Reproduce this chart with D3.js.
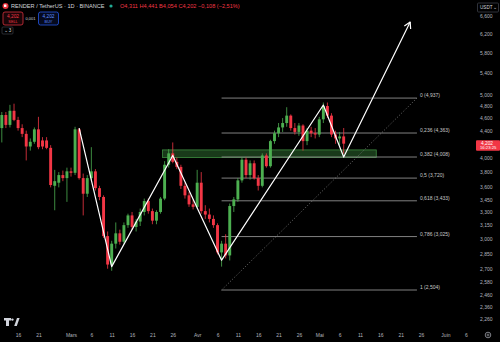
<!DOCTYPE html>
<html>
<head>
<meta charset="utf-8">
<script src="https://cdn.jsdelivr.net/npm/d3@7"></script>
<style>
  html, body { margin: 0; padding: 0; background: #000; }
  svg { display: block; font-family: "Liberation Sans", Arial, sans-serif; }
</style>
</head>
<body>
<svg id="chart" width="500" height="342"></svg>
<script>
// daily candles, RENDER/USDT, from 12 Feb 2025
const firstDay = "2025-02-12";
const open = [4.44,4.65,4.49,4.72,4.57,4.44,4.35,4.16,4.23,4.42,4.25,4.25,4.14,3.62,3.66,3.76,3.72,3.81,3.79,4.42,
  3.72,3.52,3.72,3.81,3.59,3.48,3.03,2.74,2.95,3.06,2.97,3.15,3.26,3.13,3.19,3.30,3.43,3.31,3.20,3.30,
  3.46,3.90,4.06,3.94,3.87,3.62,3.50,3.39,3.36,3.66,3.31,3.27,3.22,3.15,2.86,2.95,2.83,3.37,3.45,3.69,
  3.97,3.76,3.92,3.72,3.62,4.03,3.88,4.24,4.36,4.45,4.52,4.64,4.44,4.38,4.48,4.24,4.40,4.36,4.34,4.58,
  4.80,4.64,4.34,4.28,4.311];
const high = [4.70,4.70,4.82,4.84,4.62,4.50,4.40,4.28,4.45,4.62,4.30,4.30,4.18,3.83,3.80,3.82,3.86,3.86,4.46,4.44,
  3.78,3.76,4.15,3.84,3.62,3.50,3.08,2.98,3.18,3.10,3.18,3.28,3.30,3.22,3.34,3.46,3.46,3.34,3.32,3.48,
  3.95,4.12,4.22,4.00,3.90,3.66,3.54,3.45,3.83,3.80,3.38,3.34,3.26,3.17,2.98,3.05,3.40,3.48,3.72,4.00,
  4.00,3.96,3.96,3.76,4.06,4.06,4.26,4.40,4.52,4.60,4.78,4.66,4.52,4.52,4.50,4.44,4.46,4.44,4.62,4.86,
  4.86,4.68,4.40,4.38,4.441];
const low = [4.22,4.44,4.45,4.55,4.40,4.30,3.96,4.10,4.20,4.12,4.12,4.12,3.60,3.32,3.60,3.68,3.42,3.74,3.76,3.70,
  3.26,3.48,3.68,3.56,3.44,3.01,2.70,2.68,2.90,2.94,2.95,3.12,3.10,3.08,3.14,3.26,3.28,3.16,3.16,3.28,
  3.44,3.86,3.92,3.84,3.58,3.46,3.36,3.33,3.34,3.28,3.22,3.18,3.12,2.84,2.72,2.80,2.78,3.30,3.42,3.66,
  3.72,3.70,3.70,3.56,3.60,3.86,3.86,4.20,4.30,4.38,4.46,4.40,4.34,4.32,4.10,4.18,4.30,4.28,4.30,4.52,
  4.60,4.30,4.20,4.18,4.054];
const close = [4.65,4.49,4.72,4.57,4.44,4.35,4.16,4.23,4.42,4.15,4.16,4.14,3.63,3.68,3.76,3.72,3.81,3.79,4.42,3.72,
  3.52,3.72,3.81,3.59,3.48,3.03,2.74,2.95,3.06,2.97,3.15,3.26,3.13,3.19,3.30,3.43,3.31,3.20,3.30,3.46,
  3.90,4.06,3.94,3.87,3.62,3.50,3.39,3.36,3.66,3.31,3.27,3.22,3.15,2.86,2.95,2.83,3.37,3.45,3.69,3.97,
  3.76,3.92,3.72,3.62,4.03,3.88,4.24,4.36,4.45,4.52,4.64,4.44,4.38,4.48,4.24,4.40,4.36,4.34,4.58,4.80,
  4.64,4.34,4.28,4.310,4.202];

// drawings
const zigDates = ["2025-03-03","2025-03-11","2025-03-26","2025-04-07","2025-05-02","2025-05-07"];
const zigPrices = [4.44, 2.72, 4.03, 2.783, 4.817, 4.007];
const arrowTip = ["2025-05-23T08:00", 6.46];
const fibLevels = [0, 0.236, 0.382, 0.5, 0.618, 0.786, 1];
const fibPrices = [4.937, 4.363, 4.008, 3.720, 3.433, 3.025, 2.504];
const fibStart = "2025-04-07", fibEnd = "2025-05-25";
const zoneDates = ["2025-03-23T12:00", "2025-05-15"];
const zonePrices = [4.11, 4.00];

const priceTicks = [6.6,6.2,5.8,5.4,5.0,4.8,4.6,4.4,4.0,3.8,3.6,3.45,3.3,3.15,3.0,2.85,2.7,2.58,2.46,2.36,2.26];
const dateTicks = ["2025-02-16","2025-02-21","2025-03-01","2025-03-06","2025-03-11","2025-03-16","2025-03-21","2025-03-26",
  "2025-04-01","2025-04-06","2025-04-11","2025-04-16","2025-04-21","2025-04-26",
  "2025-05-01","2025-05-06","2025-05-11","2025-05-16","2025-05-21","2025-05-26","2025-06-01","2025-06-06"];
const monthNames = {2: "Mars", 3: "Avr", 4: "Mai", 5: "Juin"};

const GREEN = "#4caf50", RED = "#f23645";
const plotW = 470, plotH = 328;

const parse = s => new Date(s + (s.length > 10 ? "Z" : "T00:00Z"));
const fr = (v, n) => v.toFixed(n).replace(".", ",");

const svg = d3.select("#chart");

const x = d3.scaleUtc()
  .domain([parse("2025-03-01"), parse("2025-06-06")])
  .range([71, 71 + 97 * 4.07]);
const y = d3.scaleLog()
  .domain([6.6, 2.26])
  .range([16, 319]);

const candles = open.map((o, i) => ({
  date: d3.utcDay.offset(parse(firstDay), i),
  o: o, h: high[i], l: low[i], c: close[i]
}));

svg.append("defs").append("clipPath").attr("id", "plot")
  .append("rect").attr("width", plotW).attr("height", plotH);

const g = svg.append("g").attr("clip-path", "url(#plot)");

// support zone
g.append("rect")
  .attr("x", x(parse(zoneDates[0])))
  .attr("y", y(zonePrices[0]))
  .attr("width", x(parse(zoneDates[1])) - x(parse(zoneDates[0])))
  .attr("height", y(zonePrices[1]) - y(zonePrices[0]))
  .attr("fill", "rgba(76,175,80,0.33)")
  .attr("stroke", "#3d8c40")
  .attr("stroke-width", 0.8);

// fib retracement
const fx0 = x(parse(fibStart)), fx1 = x(parse(fibEnd));
g.selectAll(".fib").data(fibPrices).enter().append("line")
  .attr("x1", fx0).attr("x2", fx1)
  .attr("y1", d => y(d)).attr("y2", d => y(d))
  .attr("stroke", "#8f8f8f").attr("stroke-width", 0.9);
g.append("line")
  .attr("x1", fx0).attr("y1", y(fibPrices[6]))
  .attr("x2", fx1).attr("y2", y(fibPrices[0]))
  .attr("stroke", "#8a8a8a").attr("stroke-width", 0.8)
  .attr("stroke-dasharray", "1,2");
svg.selectAll(".fibl").data(fibPrices).enter().append("text")
  .attr("x", fx1 + 3).attr("y", d => y(d) - 1)
  .attr("font-size", 5).attr("fill", "#c8c8c8")
  .text((d, i) => (fibLevels[i] === 0 || fibLevels[i] === 1 ? fibLevels[i] : fr(fibLevels[i], String(fibLevels[i]).length - 2)) + " (" + fr(d, 3) + ")");

// candles
const bw = 2.9;
const cg = g.selectAll(".c").data(candles).enter().append("g");
cg.append("line")
  .attr("x1", d => x(d.date)).attr("x2", d => x(d.date))
  .attr("y1", d => y(d.h)).attr("y2", d => y(d.l))
  .attr("stroke", d => d.c >= d.o ? GREEN : RED).attr("stroke-width", 0.8);
cg.append("rect")
  .attr("x", d => x(d.date) - bw / 2)
  .attr("width", bw)
  .attr("y", d => y(Math.max(d.o, d.c)))
  .attr("height", d => Math.max(0.8, Math.abs(y(d.o) - y(d.c))))
  .attr("fill", d => d.c >= d.o ? GREEN : RED);

// zigzag + arrow
const zig = zigDates.map((d, i) => [x(parse(d)), y(zigPrices[i])]);
const tip = [x(parse(arrowTip[0])), y(arrowTip[1])];
g.append("path")
  .attr("d", d3.line()(zig.concat([tip])))
  .attr("fill", "none").attr("stroke", "#fff").attr("stroke-width", 1.2)
  .attr("stroke-linejoin", "round");
const last = zig[zig.length - 1];
const ang = Math.atan2(last[1] - tip[1], last[0] - tip[0]);
const wing = a => [tip[0] + 7 * Math.cos(ang + a), tip[1] + 7 * Math.sin(ang + a)];
g.append("path")
  .attr("d", d3.line()([wing(Math.PI / 6), tip, wing(-Math.PI / 6)]))
  .attr("fill", "none").attr("stroke", "#fff").attr("stroke-width", 1.2)
  .attr("stroke-linejoin", "round");

// price axis
const yAxis = d3.axisRight(y).tickValues(priceTicks).tickSize(0).tickPadding(0)
  .tickFormat(d => fr(d, 3));
svg.append("g").attr("transform", "translate(480,0)").call(yAxis)
  .call(a => a.select(".domain").remove())
  .selectAll("text").attr("font-size", 5).attr("fill", "#b2b5be").attr("font-family", "Liberation Sans, Arial");

// time axis
const xAxis = d3.axisBottom(x).tickValues(dateTicks.map(parse)).tickSize(0).tickPadding(0)
  .tickFormat(d => d.getUTCDate() === 1 ? monthNames[d.getUTCMonth()] : d.getUTCDate());
svg.append("g").attr("transform", "translate(0,333)").call(xAxis)
  .call(a => a.select(".domain").remove())
  .selectAll("text").attr("font-size", 5).attr("fill", "#b2b5be").attr("font-family", "Liberation Sans, Arial");

// current price label
const lastC = close[close.length - 1];
const prevC = close[close.length - 2];
const py = y(lastC);
svg.append("rect").attr("x", 476).attr("y", py - 3.5).attr("width", 24).attr("height", 10.5)
  .attr("fill", RED).attr("rx", 1);
svg.append("text").attr("x", 481).attr("y", py + 1.6).attr("font-size", 4.8).attr("fill", "#fff").text(fr(lastC, 3));
svg.append("text").attr("x", 480).attr("y", py + 5.8).attr("font-size", 4.2).attr("fill", "#fff").text("16:23:25");

// USDT box
svg.append("rect").attr("x", 477.5).attr("y", 3).attr("width", 21).attr("height", 9)
  .attr("fill", "none").attr("stroke", "#434651").attr("stroke-width", 0.7).attr("rx", 1);
svg.append("text").attr("x", 480).attr("y", 9.3).attr("font-size", 4.6).attr("fill", "#d1d4dc").text("USDT");
svg.append("text").attr("x", 493).attr("y", 9.3).attr("font-size", 4.6).attr("fill", "#d1d4dc").text("⌄");

// header
svg.append("circle").attr("cx", 5.5).attr("cy", 6).attr("r", 3).attr("fill", "#e8323c");
svg.append("rect").attr("x", 4).attr("y", 4.5).attr("width", 2.4).attr("height", 2.4).attr("fill", "#fff");
svg.append("text").attr("x", 11).attr("y", 8).attr("font-size", 5.6).attr("fill", "#d1d4dc")
  .text("RENDER / TetherUS · 1D · BINANCE");
svg.append("circle").attr("cx", 111).attr("cy", 6).attr("r", 1.6).attr("fill", "#22ab94");
const ohlc = svg.append("text").attr("x", 120).attr("y", 8).attr("font-size", 5.6).attr("fill", RED);
const chg = lastC - prevC;
[["O", open[84]], ["H", high[84]], ["B", low[84]], ["C", close[84]]].forEach(([k, v]) => {
  ohlc.append("tspan").text(k + fr(v, 3) + " ");
});
ohlc.append("tspan").text("−" + fr(-chg, 3) + " (−" + fr(-chg / prevC * 100, 2) + "%)");

// buy / sell boxes
svg.append("rect").attr("x", 3).attr("y", 12).attr("width", 20).attr("height", 13)
  .attr("fill", "#1a0508").attr("stroke", RED).attr("stroke-width", 0.7).attr("rx", 2);
svg.append("text").attr("x", 13).attr("y", 17.5).attr("text-anchor", "middle").attr("font-size", 4.8).attr("fill", RED).text(fr(lastC, 3));
svg.append("text").attr("x", 13).attr("y", 22.6).attr("text-anchor", "middle").attr("font-size", 3.8).attr("fill", RED).text("SELL");
svg.append("text").attr("x", 30.5).attr("y", 20).attr("text-anchor", "middle").attr("font-size", 4).attr("fill", "#d1d4dc").text("0,001");
svg.append("rect").attr("x", 38.5).attr("y", 12).attr("width", 20).attr("height", 13)
  .attr("fill", "#050a1e").attr("stroke", "#2962ff").attr("stroke-width", 0.7).attr("rx", 2);
svg.append("text").attr("x", 48.5).attr("y", 17.5).attr("text-anchor", "middle").attr("font-size", 4.8).attr("fill", "#5b8cff").text(fr(lastC, 3));
svg.append("text").attr("x", 48.5).attr("y", 22.6).attr("text-anchor", "middle").attr("font-size", 3.8).attr("fill", "#5b8cff").text("BUY");
svg.append("rect").attr("x", 2).attr("y", 27).attr("width", 11).attr("height", 7)
  .attr("fill", "none").attr("stroke", "#434651").attr("stroke-width", 0.6).attr("rx", 1);
svg.append("text").attr("x", 7.5).attr("y", 32.3).attr("text-anchor", "middle").attr("font-size", 4.6).attr("fill", "#d1d4dc").text("⌄ 3");

// TV logo + gear
svg.append("path").attr("d", "M4,318 h7 v2.6 h-2 v5.4 h-3 v-5.4 h-2 Z").attr("fill", "#d1d4dc");
svg.append("circle").attr("cx", 12.4).attr("cy", 319.6).attr("r", 1.2).attr("fill", "#d1d4dc");
svg.append("path").attr("d", "M14.2,326 L17,318 h2.6 L16.8,326 Z").attr("fill", "#d1d4dc");
svg.append("circle").attr("cx", 488).attr("cy", 335).attr("r", 2.8)
  .attr("fill", "none").attr("stroke", "#b2b5be").attr("stroke-width", 0.7);
svg.append("circle").attr("cx", 488).attr("cy", 335).attr("r", 1)
  .attr("fill", "none").attr("stroke", "#b2b5be").attr("stroke-width", 0.6);
</script>
</body>
</html>
